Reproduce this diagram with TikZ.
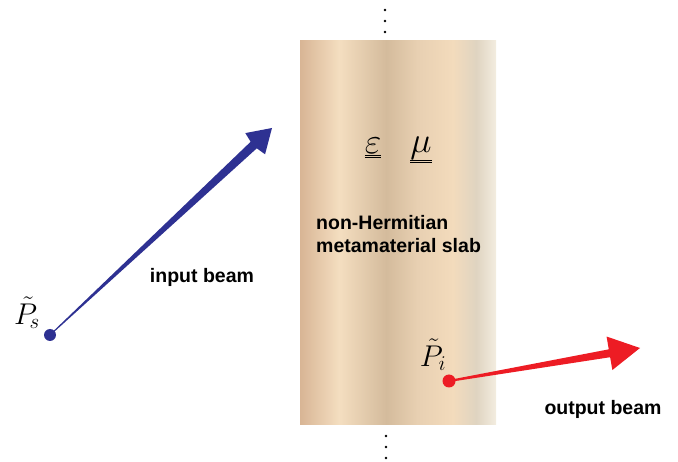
\RequirePackage{fix-cm}
\documentclass[tikz,border=0pt]{standalone}
\usepackage{fontspec}
\newfontfamily\arialb{Liberation Sans}
\usetikzlibrary{calc}
\definecolor{s0}{HTML}{D8B595}
\definecolor{s1}{HTML}{F4DEC0}
\definecolor{s2}{HTML}{D4BB9C}
\definecolor{s3}{HTML}{E8D0B2}
\definecolor{s4}{HTML}{F3DBBC}
\definecolor{s5}{HTML}{DFD4C1}
\definecolor{s6}{HTML}{F3EDE0}
\definecolor{beamblue}{HTML}{2E3192}
\definecolor{beamred}{HTML}{ED1C24}
\pgfdeclarehorizontalshading{slabshade}{100bp}{color(0bp)=(s0); color(25bp)=(s0); color(35bp)=(s1); color(47bp)=(s2); color(55bp)=(s3); color(64bp)=(s4); color(70bp)=(s5); color(75bp)=(s6); color(100bp)=(s6)}
\tikzset{
  lbl/.style={font=\arialb\bfseries\fontsize{19.5}{23}\selectfont, inner sep=0pt},
  vdot/.style={fill=black, circle, inner sep=0pt, minimum size=2.8pt},
  mth/.style={inner sep=0pt, font=\fontsize{30}{32}\selectfont},
  tens/.style={inner sep=0pt, font=\fontsize{36}{38}\selectfont}
}
\begin{document}
\begin{tikzpicture}[x=1pt,y=-1pt]
\useasboundingbox (0,0) rectangle (678,462);
% slab
\shade[shading=slabshade] (300,41) rectangle (496,425);
% vertical dots
\foreach \yy/\nm in {10/ta,21/tb,32/tc}{\node[vdot] (\nm) at (385,\yy) {};}
\foreach \yy/\nm in {436/ba,447/bb,458/bc}{\node[vdot] (\nm) at (386,\yy) {};}
% material parameters
\node[tens] (eps) at (373,148) {$\underline{\underline{\varepsilon}}$};
\node[tens] (mu) at (421,150) {$\underline{\underline{\mu}}$};
% slab label
\node[lbl, anchor=west, align=left] (slab) at (316,234) {non-Hermitian\\metamaterial slab};
% blue input beam
\coordinate (S) at (50,335);
\coordinate (T) at (272,128);
\coordinate (W) at ($(T)!23pt!(S)$);
\coordinate (J) at ($(T)!25pt!(S)$);
\fill[beamblue] ($(S)!0.5pt!90:(T)$) -- ($(J)!4.5pt!-90:(S)$) -- ($(W)!14.5pt!-90:(S)$) -- (T)
  -- ($(W)!14.5pt!90:(S)$) -- ($(J)!4.5pt!90:(S)$) -- ($(S)!0.5pt!-90:(T)$) -- cycle;
\node[fill=beamblue, circle, inner sep=0pt, minimum size=12pt] (ps) at (S) {};
\node[mth] (psl) at (27,313) {$\tilde{P}_{\!s}$};
\node[lbl] (inb) at (202,277) {input beam};
% red output beam
\coordinate (S2) at (449,381);
\coordinate (T2) at (640,348);
\coordinate (W2) at ($(T2)!31pt!(S2)$);
\coordinate (J2) at ($(T2)!31pt!(S2)$);
\fill[beamred] ($(S2)!1pt!90:(T2)$) -- ($(J2)!4pt!-90:(S2)$) -- ($(W2)!17pt!-90:(S2)$) -- (T2)
  -- ($(W2)!17pt!90:(S2)$) -- ($(J2)!4pt!90:(S2)$) -- ($(S2)!1pt!-90:(T2)$) -- cycle;
\node[fill=beamred, circle, inner sep=0pt, minimum size=13pt] (pi) at (S2) {};
\node[mth] (pil) at (433,355) {$\tilde{P}_{i}$};
\node[lbl] (outb) at (603,409) {output beam};
\end{tikzpicture}
\end{document}
